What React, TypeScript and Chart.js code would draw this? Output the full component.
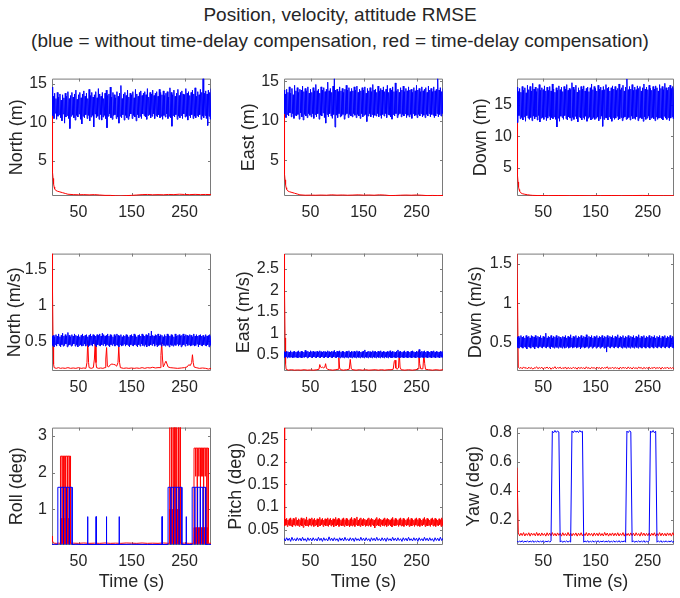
import React, { useEffect, useRef } from 'react';
import { Chart, registerables } from 'chart.js';

Chart.register(...registerables);

const FONT = "'Liberation Sans', Arial, Helvetica, sans-serif";
const TEXT = '#262626';
const FRAME = '#7a7a7a';
const BLUE = '#0000ff';
const RED = '#ff0000';

const titleLine1 = 'Position, velocity, attitude RMSE';
const titleLine2 = '(blue = without time-delay compensation, red = time-delay compensation)';
const timeTicks = [50, 150, 250];
const fineStep = 1.25; // seconds between samples of the dense series
const coarseStep = 2.5; // seconds between samples of the thin series

type Pair = [number, number];

// ---------- Position RMSE (m) ----------
const posNorthBlue = [
  14.6, 10.9, 13.4, 10.5, 13.8, 11.2, 13.1, 10.4, 13.9, 10.8,
  13.3, 11.0, 13.7, 10.6, 12.9, 10.2, 13.6, 11.1, 13.2, 9.9,
  13.8, 10.7, 13.4, 10.9, 14.0, 10.5, 13.1, 9.2, 13.5, 10.8,
  13.9, 11.0, 13.3, 10.6, 13.7, 10.3, 14.2, 10.9, 13.0, 10.7,
  13.6, 11.1, 13.9, 10.4, 13.2, 9.8, 13.7, 10.8, 14.1, 10.6,
  13.4, 11.0, 13.8, 10.5, 13.1, 10.9, 14.3, 10.2, 13.5, 10.7,
  13.9, 10.9, 13.3, 9.4, 13.6, 11.1, 14.0, 10.6, 13.2, 10.8,
  14.4, 10.4, 13.7, 11.0, 13.4, 10.3, 13.9, 10.7, 13.1, 10.9,
  13.8, 10.5, 14.2, 9.3, 13.5, 10.8, 13.7, 11.1, 14.6, 10.6,
  13.3, 10.4, 13.9, 10.9, 13.6, 11.0, 13.2, 10.5, 14.0, 10.7,
  13.4, 9.9, 13.8, 10.8, 14.8, 10.6, 13.1, 11.0, 13.7, 10.3,
  13.9, 10.9, 13.5, 10.6, 14.2, 10.4, 13.3, 10.8, 13.8, 11.1,
  13.6, 10.5, 14.0, 10.9, 13.2, 10.7, 14.3, 10.2, 13.7, 11.0,
  13.4, 10.6, 13.9, 10.8, 14.1, 10.5, 13.5, 11.1, 13.8, 10.9,
  14.0, 10.7, 13.6, 10.4, 14.4, 10.9, 13.3, 11.0, 13.9, 10.6,
  13.7, 10.8, 14.2, 11.1, 13.5, 10.5, 13.8, 10.9, 14.0, 10.7,
  13.4, 11.0, 14.3, 10.6, 13.9, 10.8, 13.6, 10.4, 14.1, 10.9,
  13.5, 10.7, 13.8, 11.1, 14.0, 10.5, 13.3, 10.8, 14.5, 10.6,
  13.9, 9.5, 13.6, 10.9, 14.2, 10.7, 13.4, 11.0, 13.8, 10.4,
  14.3, 10.8, 13.5, 10.6, 13.9, 10.9, 14.1, 10.5, 13.7, 11.1,
  13.6, 10.7, 14.4, 10.8, 13.8, 10.3, 14.0, 10.9, 13.5, 10.6,
  13.9, 11.0, 14.2, 10.5, 13.7, 10.8, 14.5, 10.6, 13.4, 10.9,
  14.0, 10.7, 13.6, 11.0, 14.3, 10.4, 13.9, 10.8, 15.7, 10.6,
  13.8, 10.9, 14.1, 10.5, 13.7, 9.6, 14.2, 10.8, 13.9, 10.4,
  14.4,
];
const posNorthRed: Pair[] = [
  [0, 11.8], [0.5, 8], [1, 5], [1.5, 3.5], [2, 2.7], [3, 2.0], [4, 1.6], [5, 1.35], [7, 1.15],
  [10, 1.05], [15, 0.95], [20, 0.85], [25, 0.75], [30, 0.65], [40, 0.6], [50, 0.58], [60, 0.6],
  [70, 0.57], [80, 0.6], [90, 0.55], [100, 0.5], [110, 0.5], [120, 0.45], [130, 0.43], [140, 0.47],
  [150, 0.5], [160, 0.55], [170, 0.6], [180, 0.62], [190, 0.58], [200, 0.6], [210, 0.58], [220, 0.62],
  [230, 0.6], [240, 0.65], [250, 0.62], [260, 0.6], [270, 0.63], [280, 0.6], [290, 0.62], [300, 0.6],
];

const posEastBlue = [
  13.9, 10.9, 13.4, 10.4, 14.0, 10.8, 13.6, 10.6, 14.3, 11.0,
  13.5, 10.5, 14.1, 10.9, 13.3, 10.3, 14.5, 10.7, 13.8, 10.6,
  14.2, 10.8, 13.6, 10.2, 14.0, 11.0, 13.9, 10.5, 14.4, 10.1,
  13.7, 10.8, 14.1, 10.6, 13.8, 10.4, 14.3, 10.9, 13.5, 10.7,
  14.0, 10.5, 13.6, 10.9, 14.2, 10.3, 13.8, 10.8, 14.6, 10.5,
  13.8, 10.9, 14.0, 10.2, 13.5, 10.7, 14.3, 10.6, 13.9, 11.0,
  14.2, 10.4, 13.7, 9.7, 14.0, 10.8, 14.9, 10.5, 13.8, 10.9,
  14.1, 10.6, 13.6, 10.3, 14.4, 10.8, 15.35, 9.2, 13.9, 10.7,
  14.0, 10.4, 13.7, 10.9, 14.3, 10.5, 13.8, 10.6, 14.1, 10.8,
  13.6, 10.2, 14.0, 10.7, 14.5, 10.9, 13.9, 10.4, 14.2, 10.8,
  13.7, 10.6, 14.1, 10.5, 13.8, 10.9, 14.3, 10.7, 13.9, 10.4,
  14.4, 10.8, 13.6, 10.6, 14.0, 10.3, 13.8, 10.9, 14.2, 10.5,
  13.9, 10.7, 14.3, 10.8, 13.5, 9.9, 14.1, 10.6, 13.8, 10.9,
  14.2, 10.5, 13.7, 10.8, 14.6, 10.4, 13.9, 10.7, 14.0, 10.6,
  13.6, 10.9, 14.4, 10.5, 13.8, 10.7, 14.1, 10.3, 13.9, 10.8,
  14.3, 10.6, 13.7, 10.9, 14.0, 10.4, 14.5, 10.8, 13.6, 10.7,
  14.1, 10.5, 13.9, 10.2, 14.3, 10.8, 13.7, 10.6, 14.8, 10.9,
  13.8, 10.4, 14.0, 10.7, 13.6, 10.9, 14.2, 10.5, 13.9, 10.8,
  14.4, 10.6, 13.7, 10.9, 14.1, 10.4, 13.8, 10.7, 14.3, 10.5,
  13.9, 10.8, 14.0, 10.3, 13.6, 10.9, 14.2, 10.6, 13.8, 10.7,
  14.5, 10.4, 13.9, 10.8, 14.1, 10.6, 13.7, 10.9, 14.3, 10.5,
  13.8, 10.7, 14.0, 10.4, 14.2, 10.8, 13.6, 10.6, 14.4, 10.9,
  13.9, 10.5, 14.1, 10.8, 13.7, 10.7, 14.3, 10.4, 13.8, 10.6,
  14.0, 10.9, 15.35, 10.5, 13.9, 10.8, 14.2, 10.6, 13.7, 10.9,
  14.1,
];
const posEastRed: Pair[] = [
  [0, 10.8], [0.5, 7], [1, 4.5], [1.5, 3.2], [2, 2.5], [3, 1.9], [4, 1.5], [5, 1.3], [7, 1.1],
  [10, 1.0], [15, 0.9], [20, 0.8], [25, 0.7], [30, 0.6], [40, 0.55], [50, 0.56], [60, 0.55],
  [70, 0.57], [80, 0.55], [90, 0.6], [100, 0.56], [110, 0.58], [120, 0.55], [130, 0.57], [140, 0.6],
  [150, 0.56], [160, 0.58], [170, 0.55], [180, 0.6], [190, 0.57], [200, 0.5], [210, 0.52], [220, 0.55],
  [230, 0.57], [240, 0.55], [250, 0.58], [260, 0.55], [270, 0.5], [280, 0.52], [290, 0.5], [300, 0.52],
];

const posDownBlue = [
  17.8, 12.2, 17.1, 13.3, 17.6, 12.8, 17.0, 13.0, 17.9, 12.6,
  17.3, 13.1, 17.7, 12.4, 16.9, 13.3, 18.1, 12.9, 17.4, 12.7,
  17.9, 13.0, 17.2, 12.5, 18.4, 13.2, 17.5, 12.8, 17.8, 13.1,
  17.1, 12.6, 17.6, 13.3, 18.2, 12.3, 17.3, 12.9, 17.7, 13.0,
  17.4, 12.7, 18.0, 13.1, 17.2, 12.5, 17.8, 12.9, 17.3, 13.2,
  17.9, 12.6, 17.2, 13.0, 18.3, 12.8, 17.5, 13.1, 17.0, 12.7,
  17.7, 11.5, 17.3, 12.9, 18.0, 12.4, 17.4, 13.2, 17.8, 13.0,
  17.1, 12.7, 17.9, 13.3, 17.5, 12.8, 18.2, 12.6, 17.3, 13.1,
  17.6, 12.9, 17.4, 12.5, 18.5, 13.0, 17.8, 12.7, 17.4, 13.2,
  18.1, 12.8, 17.0, 12.3, 17.7, 13.1, 17.3, 12.9, 17.9, 12.6,
  17.5, 13.0, 18.0, 12.7, 17.2, 13.2, 17.6, 12.4, 17.8, 12.9,
  17.1, 13.1, 17.7, 12.6, 18.3, 12.8, 17.4, 13.0, 17.9, 12.7,
  17.6, 12.9, 17.2, 13.1, 18.1, 12.5, 17.5, 12.8, 17.8, 13.2,
  17.3, 11.6, 17.9, 12.7, 17.4, 13.0, 18.2, 12.9, 17.6, 12.6,
  17.8, 13.1, 17.2, 12.8, 17.7, 12.4, 18.0, 13.0, 17.5, 12.7,
  17.9, 12.9, 17.3, 13.2, 17.6, 12.6, 18.3, 12.8, 17.4, 13.0,
  17.7, 12.5, 18.1, 12.9, 17.2, 13.1, 17.8, 12.7, 19.1, 12.8,
  17.4, 13.0, 17.9, 12.6, 17.5, 13.2, 18.2, 12.8, 17.3, 12.9,
  17.8, 12.7, 17.4, 13.1, 18.0, 12.5, 17.6, 12.9, 17.9, 13.0,
  17.2, 12.8, 17.7, 12.4, 18.3, 13.1, 17.5, 12.7, 17.8, 12.9,
  17.4, 13.2, 18.1, 12.6, 17.6, 12.9, 17.3, 13.0, 17.9, 12.8,
  17.5, 12.5, 18.0, 13.1, 17.7, 12.7, 17.2, 12.9, 18.2, 13.0,
  17.6, 12.8, 17.9, 12.6, 17.4, 13.2, 18.4, 12.9, 17.7, 12.7,
  17.3, 13.0, 17.8, 12.5, 18.1, 12.9, 17.6, 13.1, 17.9, 12.8,
  17.6,
];
const posDownRed: Pair[] = [
  [0, 14.8], [0.5, 9], [1, 5.5], [1.5, 3.8], [2, 2.8], [3, 2.0], [4, 1.6], [5, 1.35], [7, 1.1],
  [10, 0.95], [15, 0.85], [20, 0.78], [25, 0.72], [30, 0.68], [40, 0.65], [60, 0.64], [80, 0.66],
  [100, 0.63], [120, 0.65], [140, 0.62], [160, 0.64], [180, 0.66], [200, 0.63], [220, 0.65],
  [240, 0.67], [260, 0.64], [280, 0.63], [300, 0.62],
];

// ---------- Velocity RMSE (m/s) ----------
const velNorthBlue = [
  0.57, 0.44, 0.58, 0.42, 0.56, 0.45, 0.59, 0.43, 0.57, 0.46,
  0.60, 0.44, 0.56, 0.42, 0.58, 0.45, 0.61, 0.43, 0.57, 0.44,
  0.59, 0.46, 0.57, 0.42, 0.62, 0.44, 0.58, 0.45, 0.56, 0.43,
  0.59, 0.44, 0.57, 0.46, 0.60, 0.43, 0.58, 0.45, 0.57, 0.42,
  0.59, 0.44, 0.56, 0.45, 0.58, 0.43, 0.60, 0.44, 0.57, 0.46,
  0.58, 0.43, 0.59, 0.45, 0.56, 0.42, 0.58, 0.44, 0.60, 0.45,
  0.57, 0.43, 0.59, 0.46, 0.58, 0.44, 0.57, 0.42, 0.59, 0.45,
  0.58, 0.44, 0.60, 0.43, 0.57, 0.45, 0.61, 0.44, 0.59, 0.46,
  0.57, 0.43, 0.58, 0.45, 0.60, 0.44, 0.57, 0.42, 0.59, 0.45,
  0.58, 0.44, 0.56, 0.46, 0.59, 0.43, 0.57, 0.45, 0.60, 0.44,
  0.58, 0.42, 0.57, 0.45, 0.59, 0.43, 0.56, 0.44, 0.58, 0.46,
  0.57, 0.43, 0.59, 0.45, 0.58, 0.44, 0.56, 0.42, 0.58, 0.45,
  0.59, 0.44, 0.57, 0.43, 0.60, 0.45, 0.58, 0.44, 0.56, 0.42,
  0.58, 0.45, 0.59, 0.43, 0.57, 0.46, 0.60, 0.44, 0.58, 0.43,
  0.57, 0.45, 0.59, 0.42, 0.58, 0.44, 0.61, 0.43, 0.57, 0.45,
  0.64, 0.44, 0.58, 0.46, 0.57, 0.43, 0.59, 0.45, 0.58, 0.42,
  0.60, 0.44, 0.57, 0.45, 0.59, 0.43, 0.58, 0.46, 0.56, 0.44,
  0.59, 0.43, 0.57, 0.45, 0.60, 0.44, 0.58, 0.42, 0.57, 0.45,
  0.59, 0.44, 0.58, 0.43, 0.56, 0.45, 0.60, 0.44, 0.57, 0.46,
  0.58, 0.43, 0.59, 0.45, 0.57, 0.42, 0.58, 0.44, 0.60, 0.45,
  0.57, 0.43, 0.59, 0.46, 0.58, 0.44, 0.57, 0.45, 0.59, 0.43,
  0.58, 0.44, 0.56, 0.45, 0.60, 0.43, 0.57, 0.44, 0.59, 0.46,
  0.57, 0.42, 0.58, 0.45, 0.59, 0.44, 0.57, 0.43, 0.58, 0.45,
  0.56, 0.44, 0.59, 0.43, 0.57, 0.45, 0.58, 0.42, 0.59, 0.44,
  0.57,
];
const velNorthRed: Pair[] = [
  [0, 1.72], [1, 1.2], [2, 0.5], [3, 0.18], [4, 0.13], [8, 0.12], [12, 0.13], [16, 0.12], [20, 0.125],
  [25, 0.12], [30, 0.13], [35, 0.12], [40, 0.125], [45, 0.12], [50, 0.13], [55, 0.12], [60, 0.125],
  [64, 0.12], [66, 0.2], [67.5, 0.51], [69, 0.2], [70, 0.13], [74, 0.12], [78, 0.13], [80, 0.25],
  [81.5, 0.51], [83, 0.2], [84, 0.13], [88, 0.12], [92, 0.125], [96, 0.12], [100, 0.13], [101.5, 0.25],
  [103, 0.41], [104.5, 0.15], [107, 0.14], [110, 0.17], [113, 0.18], [116, 0.175], [119, 0.17],
  [122, 0.15], [124.5, 0.2], [126, 0.42], [127.5, 0.2], [129, 0.13], [135, 0.12], [140, 0.125],
  [145, 0.12], [150, 0.125], [155, 0.12], [160, 0.125], [165, 0.12], [170, 0.13], [175, 0.12],
  [180, 0.13], [185, 0.125], [190, 0.135], [195, 0.125], [200, 0.13], [204, 0.13], [205.5, 0.3],
  [207, 0.48], [208.5, 0.25], [210, 0.14], [213, 0.19], [215, 0.22], [217, 0.18], [219, 0.14],
  [223, 0.13], [230, 0.125], [237, 0.12], [244, 0.125], [250, 0.13], [255, 0.14], [258, 0.17],
  [261, 0.16], [263.5, 0.2], [265, 0.31], [266.5, 0.2], [268, 0.14], [272, 0.13], [278, 0.12],
  [284, 0.125], [290, 0.12], [295, 0.11], [300, 0.12],
];

const velEastBlue = [
  0.58, 0.445, 0.57, 0.455, 0.59, 0.435, 0.58, 0.455, 0.57, 0.445,
  0.60, 0.455, 0.57, 0.435, 0.58, 0.445, 0.59, 0.455, 0.57, 0.445,
  0.58, 0.435, 0.60, 0.455, 0.57, 0.445, 0.59, 0.435, 0.58, 0.455,
  0.57, 0.445, 0.61, 0.455, 0.58, 0.435, 0.59, 0.445, 0.57, 0.455,
  0.60, 0.445, 0.58, 0.435, 0.59, 0.455, 0.57, 0.445, 0.58, 0.435,
  0.59, 0.455, 0.57, 0.445, 0.60, 0.435, 0.58, 0.455, 0.57, 0.445,
  0.59, 0.435, 0.58, 0.455, 0.57, 0.445, 0.60, 0.435, 0.58, 0.455,
  0.57, 0.445, 0.59, 0.435, 0.58, 0.455, 0.61, 0.445, 0.57, 0.435,
  0.59, 0.455, 0.58, 0.445, 0.60, 0.435, 0.57, 0.455, 0.59, 0.445,
  0.58, 0.435, 0.57, 0.455, 0.59, 0.445, 0.58, 0.435, 0.60, 0.455,
  0.57, 0.445, 0.59, 0.435, 0.58, 0.455, 0.59, 0.445, 0.57, 0.435,
  0.60, 0.455, 0.58, 0.445, 0.59, 0.435, 0.57, 0.455, 0.58, 0.445,
  0.59, 0.435, 0.62, 0.455, 0.57, 0.445, 0.58, 0.435, 0.59, 0.455,
  0.58, 0.445, 0.57, 0.435, 0.60, 0.455, 0.58, 0.445, 0.59, 0.435,
  0.57, 0.455, 0.59, 0.445, 0.58, 0.435, 0.60, 0.455, 0.57, 0.445,
  0.59, 0.435, 0.58, 0.455, 0.57, 0.445, 0.59, 0.435, 0.58, 0.455,
  0.60, 0.445, 0.57, 0.435, 0.59, 0.455, 0.58, 0.445, 0.57, 0.435,
  0.59, 0.455, 0.62, 0.445, 0.58, 0.435, 0.59, 0.455, 0.57, 0.445,
  0.58, 0.435, 0.60, 0.455, 0.57, 0.445, 0.59, 0.435, 0.58, 0.455,
  0.57, 0.445, 0.59, 0.435, 0.60, 0.455, 0.58, 0.445, 0.57, 0.435,
  0.59, 0.455, 0.58, 0.445, 0.63, 0.435, 0.57, 0.455, 0.59, 0.445,
  0.58, 0.435, 0.60, 0.455, 0.57, 0.445, 0.59, 0.435, 0.58, 0.455,
  0.57, 0.445, 0.59, 0.435, 0.58, 0.455, 0.60, 0.445, 0.57, 0.435,
  0.59, 0.455, 0.58, 0.445, 0.57, 0.435, 0.59, 0.455, 0.58, 0.445,
  0.59,
];
const velEastRed: Pair[] = [
  [0, 2.85], [1, 2.0], [2, 0.9], [3, 0.3], [4, 0.17], [8, 0.15], [14, 0.16], [20, 0.15], [26, 0.155],
  [32, 0.15], [38, 0.16], [44, 0.15], [50, 0.155], [56, 0.15], [62, 0.16], [66, 0.17], [67.5, 0.28],
  [69, 0.22], [71, 0.21], [73, 0.22], [75, 0.2], [77, 0.22], [78.5, 0.3], [80, 0.2], [82, 0.17],
  [86, 0.16], [92, 0.15], [98, 0.16], [102, 0.17], [103.5, 0.44], [105, 0.2], [107, 0.16], [112, 0.15],
  [118, 0.16], [123, 0.17], [125, 0.4], [127, 0.18], [130, 0.16], [136, 0.15], [142, 0.16], [148, 0.15],
  [154, 0.16], [160, 0.15], [166, 0.155], [172, 0.16], [178, 0.15], [184, 0.16], [190, 0.15],
  [196, 0.16], [202, 0.16], [206, 0.17], [208, 0.35], [209.5, 0.38], [211, 0.2], [213, 0.17],
  [216, 0.2], [217.5, 0.57], [219, 0.22], [221, 0.16], [228, 0.15], [235, 0.16], [242, 0.15],
  [249, 0.16], [253, 0.18], [254.5, 0.6], [256, 0.3], [258, 0.18], [262, 0.18], [264, 0.52],
  [265.5, 0.3], [267, 0.17], [273, 0.16], [280, 0.15], [287, 0.16], [294, 0.15], [300, 0.16],
];

const velDownBlue = [
  0.57, 0.44, 0.58, 0.43, 0.56, 0.45, 0.59, 0.44, 0.57, 0.43,
  0.58, 0.45, 0.56, 0.44, 0.59, 0.42, 0.57, 0.45, 0.58, 0.44,
  0.56, 0.43, 0.59, 0.45, 0.58, 0.44, 0.57, 0.42, 0.59, 0.45,
  0.56, 0.44, 0.58, 0.43, 0.57, 0.45, 0.59, 0.44, 0.56, 0.43,
  0.58, 0.45, 0.57, 0.44, 0.62, 0.43, 0.56, 0.45, 0.58, 0.44,
  0.57, 0.42, 0.59, 0.45, 0.56, 0.44, 0.58, 0.43, 0.57, 0.45,
  0.59, 0.44, 0.56, 0.43, 0.58, 0.45, 0.57, 0.44, 0.55, 0.43,
  0.58, 0.45, 0.57, 0.43, 0.59, 0.44, 0.56, 0.45, 0.58, 0.43,
  0.57, 0.44, 0.60, 0.45, 0.56, 0.43, 0.58, 0.44, 0.57, 0.45,
  0.59, 0.43, 0.56, 0.44, 0.58, 0.45, 0.57, 0.42, 0.59, 0.44,
  0.56, 0.45, 0.58, 0.43, 0.57, 0.44, 0.60, 0.45, 0.56, 0.43,
  0.58, 0.44, 0.57, 0.45, 0.59, 0.43, 0.56, 0.44, 0.58, 0.45,
  0.57, 0.43, 0.59, 0.44, 0.56, 0.45, 0.58, 0.43, 0.57, 0.44,
  0.59, 0.45, 0.56, 0.43, 0.58, 0.44, 0.57, 0.38, 0.59, 0.45,
  0.56, 0.44, 0.58, 0.43, 0.57, 0.45, 0.59, 0.44, 0.56, 0.43,
  0.58, 0.45, 0.57, 0.44, 0.60, 0.43, 0.56, 0.45, 0.58, 0.44,
  0.57, 0.43, 0.59, 0.45, 0.56, 0.44, 0.58, 0.43, 0.57, 0.45,
  0.59, 0.44, 0.56, 0.43, 0.58, 0.45, 0.57, 0.44, 0.59, 0.43,
  0.56, 0.45, 0.58, 0.44, 0.57, 0.43, 0.60, 0.45, 0.56, 0.44,
  0.58, 0.43, 0.57, 0.45, 0.59, 0.44, 0.56, 0.43, 0.58, 0.45,
  0.57, 0.44, 0.59, 0.43, 0.56, 0.45, 0.58, 0.44, 0.57, 0.43,
  0.59, 0.45, 0.56, 0.44, 0.58, 0.43, 0.57, 0.45, 0.59, 0.44,
  0.56, 0.43, 0.58, 0.45, 0.57, 0.44, 0.59, 0.43, 0.56, 0.45,
  0.58, 0.44, 0.57, 0.43, 0.59, 0.45, 0.56, 0.44, 0.58, 0.43,
  0.57,
];
const velDownRed = [
  1.63, 0.19, 0.172, 0.186, 0.168, 0.192, 0.175, 0.183, 0.166, 0.189,
  0.171, 0.185, 0.163, 0.18, 0.177, 0.193, 0.169, 0.184, 0.174, 0.188,
  0.165, 0.182, 0.176, 0.19, 0.17, 0.187, 0.162, 0.181, 0.173, 0.195,
  0.168, 0.184, 0.175, 0.189, 0.166, 0.183, 0.171, 0.191, 0.164, 0.186,
  0.172, 0.18, 0.169, 0.188, 0.175, 0.182, 0.163, 0.19, 0.17, 0.185,
  0.174, 0.181, 0.167, 0.193, 0.172, 0.184, 0.165, 0.187, 0.176, 0.182,
  0.168, 0.19, 0.173, 0.185, 0.164, 0.188, 0.171, 0.183, 0.175, 0.194,
  0.166, 0.182, 0.172, 0.189, 0.169, 0.185, 0.174, 0.181, 0.163, 0.19,
  0.17, 0.186, 0.176, 0.183, 0.167, 0.192, 0.172, 0.184, 0.165, 0.188,
  0.173, 0.181, 0.168, 0.19, 0.175, 0.185, 0.164, 0.187, 0.171, 0.182,
  0.174, 0.189, 0.166, 0.184, 0.172, 0.191, 0.169, 0.183, 0.175, 0.186,
  0.163, 0.188, 0.17, 0.182, 0.173, 0.19, 0.167, 0.185, 0.171, 0.183,
  0.168,
];

// ---------- Attitude RMSE (deg) ----------
const rollBlue: Pair[] = [
  [0, 0.04], [5, 0.045], [11, 0.04],
  [11, 1.6], [16.4, 1.6], [16.4, 0.04], [16.4, 1.6], [21.8, 1.6], [21.8, 0.04], [21.8, 1.6],
  [27.2, 1.6], [27.2, 0.04], [27.2, 1.6], [32.6, 1.6], [32.6, 0.04], [32.6, 1.6], [38, 1.6], [38, 0.04],
  [45, 0.045], [55, 0.04], [67, 0.04], [67, 0.8], [67.6, 0.8], [67.6, 0.04],
  [83, 0.04], [83, 0.8], [83.6, 0.8], [83.6, 0.04],
  [102.5, 0.04], [102.5, 0.8], [103.1, 0.8], [103.1, 0.04],
  [126.5, 0.04], [126.5, 0.8], [127.1, 0.8], [127.1, 0.04],
  [150, 0.045], [180, 0.04], [207.5, 0.04], [207.5, 0.8], [208.1, 0.8], [208.1, 0.04],
  [219, 0.04], [219, 1.6], [224.2, 1.6], [224.2, 0.04], [224.2, 1.6], [229.4, 1.6], [229.4, 0.04],
  [229.4, 1.6], [234.6, 1.6], [234.6, 0.04], [234.6, 1.6], [239.8, 1.6], [239.8, 0.04], [239.8, 1.6],
  [245, 1.6], [245, 0.04],
  [253, 0.04], [253, 0.8], [253.6, 0.8], [253.6, 0.04],
  [264.5, 0.04], [264.5, 1.6], [269.6, 1.6], [269.6, 0.04], [269.6, 1.6], [274.7, 1.6], [274.7, 0.04],
  [274.7, 1.6], [279.8, 1.6], [279.8, 0.04], [279.8, 1.6], [284.9, 1.6], [284.9, 0.04], [284.9, 1.6],
  [290, 1.6], [290, 0.04],
  [295, 0.045], [300, 0.04],
];
const rollRed: Pair[] = [
  [0, 0.27], [1, 0.14], [2, 0.09], [4, 0.075], [8, 0.07], [12, 0.075], [15.8, 0.07],
  // first burst: flat top with drop-outs, then a dense low-level return
  [16, 2.45], [19, 2.45], [19, 0.75], [19.3, 0.07], [19.6, 2.45], [22.3, 2.45], [22.3, 0.75], [22.6, 0.07],
  [22.9, 2.45], [25.6, 2.45], [25.6, 0.75], [25.9, 0.07], [26.2, 2.45], [28.9, 2.45], [28.9, 0.75],
  [29.2, 0.07], [29.5, 2.45], [32.2, 2.45], [32.2, 0.75], [32.5, 0.07], [32.8, 2.45], [35, 2.45],
  [35.2, 0.07], [34.6, 0.75], [34, 0.07], [33.4, 0.75], [32.8, 0.07], [32.2, 0.75], [31.6, 0.07],
  [31, 0.75], [30.4, 0.07], [29.8, 0.75], [29.2, 0.07], [28.6, 0.75], [28, 0.07], [27.4, 0.75],
  [26.8, 0.07], [26.2, 0.75], [25.6, 0.07], [25, 0.75], [24.4, 0.07], [23.8, 0.75], [23.2, 0.07],
  [22.6, 0.75], [22, 0.07], [21.4, 0.75], [20.8, 0.07], [20.2, 0.75], [19.6, 0.07], [19, 0.75],
  [18.4, 0.07], [17.8, 0.75], [17.2, 0.07], [16.6, 0.75], [16, 0.07],
  [40, 0.075], [50, 0.07], [60, 0.08], [70, 0.07], [80, 0.075], [90, 0.07], [100, 0.08], [110, 0.07],
  [120, 0.075], [130, 0.07], [140, 0.08], [150, 0.075], [160, 0.07], [170, 0.08], [180, 0.07],
  [190, 0.075], [200, 0.07], [210, 0.08], [221.8, 0.07],
  // second burst (runs off the top of the axes)
  [222, 3.4], [225, 3.4], [225, 1.0], [225.3, 0.07], [225.6, 3.4], [228.4, 3.4], [228.4, 1.0],
  [228.7, 0.07], [229, 3.4], [231.8, 3.4], [231.8, 1.0], [232.1, 0.07], [232.4, 3.4], [235.2, 3.4],
  [235.2, 1.0], [235.5, 0.07], [235.8, 3.4], [238.6, 3.4], [238.6, 1.0], [238.9, 0.07], [239.2, 3.4],
  [242, 3.4], [242.2, 0.07], [241.6, 1.0], [241, 0.07], [240.4, 1.0], [239.8, 0.07], [239.2, 1.0],
  [238.6, 0.07], [238, 1.0], [237.4, 0.07], [236.8, 1.0], [236.2, 0.07], [235.6, 1.0], [235, 0.07],
  [234.4, 1.0], [233.8, 0.07], [233.2, 1.0], [232.6, 0.07], [232, 1.0], [231.4, 0.07], [230.8, 1.0],
  [230.2, 0.07], [229.6, 1.0], [229, 0.07], [228.4, 1.0], [227.8, 0.07], [227.2, 1.0], [226.6, 0.07],
  [226, 1.0], [225.4, 0.07], [224.8, 1.0], [224.2, 0.07], [223.6, 1.0], [223, 0.07], [222.4, 1.0],
  [222, 0.07],
  [250, 0.075], [260, 0.07], [267.8, 0.07],
  // third burst
  [268, 2.67], [271, 2.67], [271, 1.9], [271.3, 2.67], [274, 2.67], [274, 0.07], [274.3, 2.67],
  [277, 2.67], [277, 1.9], [277.3, 2.67], [280, 2.67], [280, 0.07], [280.3, 2.67], [283, 2.67],
  [283, 1.9], [283.3, 2.67], [286, 2.67], [286, 0.07], [286.3, 2.67], [289, 2.67], [289, 1.9],
  [289.3, 2.67], [292, 2.67], [292, 0.07], [292.3, 2.67], [295, 2.67], [295.2, 0.07],
  [294.6, 0.5], [294, 0.07], [293.4, 0.5], [292.8, 0.07], [292.2, 0.5], [291.6, 0.07], [291, 0.5],
  [290.4, 0.07], [289.8, 0.5], [289.2, 0.07], [288.6, 0.5], [288, 0.07], [287.4, 0.5], [286.8, 0.07],
  [286.2, 0.5], [285.6, 0.07], [285, 0.5], [284.4, 0.07], [283.8, 0.5], [283.2, 0.07], [282.6, 0.5],
  [282, 0.07], [281.4, 0.5], [280.8, 0.07], [280.2, 0.5], [279.6, 0.07], [279, 0.5], [278.4, 0.07],
  [277.8, 0.5], [277.2, 0.07], [276.6, 0.5], [276, 0.07], [275.4, 0.5], [274.8, 0.07], [274.2, 0.5],
  [273.6, 0.07], [273, 0.5], [272.4, 0.07], [271.8, 0.5], [271.2, 0.07], [270.6, 0.5], [270, 0.07],
  [269.4, 0.5], [268.8, 0.07], [268.2, 0.5], [268, 0.07],
  [296, 0.07], [300, 0.075],
];

const pitchBlue = [
  0.031, 0.025, 0.032, 0.026, 0.031, 0.024, 0.033, 0.026, 0.030, 0.025,
  0.032, 0.026, 0.031, 0.025, 0.033, 0.026, 0.030, 0.024, 0.032, 0.026,
  0.031, 0.025, 0.032, 0.026, 0.030, 0.025, 0.033, 0.026, 0.031, 0.024,
  0.032, 0.026, 0.030, 0.025, 0.034, 0.026, 0.031, 0.025, 0.032, 0.026,
  0.030, 0.024, 0.032, 0.026, 0.031, 0.025, 0.033, 0.026, 0.030, 0.025,
  0.032, 0.026, 0.031, 0.024, 0.032, 0.026, 0.030, 0.025, 0.033, 0.026,
  0.031, 0.025, 0.032, 0.026, 0.030, 0.024, 0.032, 0.026, 0.031, 0.025,
  0.033, 0.026, 0.030, 0.025, 0.032, 0.026, 0.031, 0.024, 0.032, 0.026,
  0.030, 0.025, 0.033, 0.026, 0.031, 0.025, 0.032, 0.026, 0.030, 0.024,
  0.032, 0.026, 0.031, 0.025, 0.033, 0.026, 0.030, 0.025, 0.032, 0.026,
  0.031, 0.024, 0.032, 0.026, 0.030, 0.025, 0.033, 0.026, 0.031, 0.025,
  0.032, 0.026, 0.030, 0.024, 0.032, 0.026, 0.031, 0.025, 0.033, 0.026,
  0.031,
];
const pitchRed = [
  0.275, 0.058, 0.073, 0.060, 0.075, 0.057, 0.071, 0.061, 0.074, 0.059,
  0.076, 0.058, 0.072, 0.056, 0.075, 0.060, 0.073, 0.058, 0.077, 0.061,
  0.071, 0.059, 0.074, 0.057, 0.072, 0.060, 0.076, 0.058, 0.073, 0.055,
  0.075, 0.061, 0.072, 0.058, 0.078, 0.059, 0.071, 0.057, 0.074, 0.060,
  0.073, 0.058, 0.076, 0.061, 0.072, 0.057, 0.075, 0.059, 0.071, 0.060,
  0.074, 0.056, 0.073, 0.059, 0.077, 0.058, 0.072, 0.061, 0.075, 0.057,
  0.071, 0.060, 0.074, 0.058, 0.073, 0.059, 0.076, 0.057, 0.072, 0.061,
  0.075, 0.058, 0.071, 0.060, 0.074, 0.056, 0.073, 0.059, 0.077, 0.058,
  0.072, 0.061, 0.075, 0.057, 0.073, 0.060, 0.071, 0.058, 0.074, 0.059,
  0.076, 0.057, 0.072, 0.061, 0.075, 0.058, 0.073, 0.060, 0.071, 0.056,
  0.074, 0.059, 0.077, 0.058, 0.072, 0.060, 0.075, 0.057, 0.073, 0.061,
  0.078, 0.058, 0.071, 0.059, 0.074, 0.057, 0.076, 0.060, 0.072, 0.058,
  0.075, 0.061, 0.073, 0.057, 0.071, 0.059, 0.074, 0.058, 0.076, 0.060,
  0.072, 0.057, 0.075, 0.061, 0.073, 0.058, 0.071, 0.054, 0.074, 0.059,
  0.077, 0.060, 0.072, 0.058, 0.075, 0.057, 0.073, 0.061, 0.071, 0.059,
  0.074, 0.058, 0.076, 0.060, 0.072, 0.057, 0.075, 0.059, 0.073, 0.061,
  0.071, 0.058, 0.074, 0.056, 0.077, 0.060, 0.072, 0.058, 0.075, 0.059,
  0.073, 0.061, 0.071, 0.057, 0.074, 0.060, 0.076, 0.058, 0.072, 0.059,
  0.075, 0.057, 0.073, 0.061, 0.071, 0.058, 0.074, 0.060, 0.077, 0.057,
  0.072, 0.059, 0.075, 0.058, 0.073, 0.061, 0.071, 0.057, 0.074, 0.060,
  0.076, 0.058, 0.072, 0.059, 0.075, 0.057, 0.073, 0.060, 0.071, 0.058,
  0.074, 0.061, 0.077, 0.057, 0.072, 0.059, 0.075, 0.058, 0.073, 0.060,
  0.071, 0.057, 0.074, 0.061, 0.076, 0.058, 0.072, 0.059, 0.075, 0.057,
  0.073, 0.060, 0.071, 0.058, 0.074, 0.061, 0.072, 0.057, 0.076, 0.059,
  0.073,
];

const yawBlue = [
  0.058, 0.048, 0.057, 0.049, 0.059, 0.047, 0.056, 0.050, 0.058, 0.048,
  0.057, 0.049, 0.059, 0.047, 0.056, 0.050, 0.058, 0.048, 0.057, 0.049,
  0.059, 0.047, 0.056, 0.050, 0.058, 0.048, 0.057, 0.810, 0.800, 0.815,
  0.802, 0.812, 0.805, 0.049, 0.058, 0.047, 0.056, 0.050, 0.058, 0.048,
  0.057, 0.049, 0.812, 0.800, 0.814, 0.803, 0.811, 0.801, 0.815, 0.804,
  0.810, 0.048, 0.057, 0.049, 0.059, 0.047, 0.056, 0.050, 0.058, 0.048,
  0.057, 0.049, 0.059, 0.047, 0.056, 0.050, 0.058, 0.048, 0.057, 0.049,
  0.059, 0.047, 0.056, 0.050, 0.058, 0.048, 0.057, 0.049, 0.059, 0.047,
  0.056, 0.050, 0.058, 0.048, 0.811, 0.801, 0.814, 0.805, 0.049, 0.058,
  0.047, 0.056, 0.050, 0.058, 0.048, 0.057, 0.049, 0.059, 0.047, 0.056,
  0.050, 0.058, 0.812, 0.802, 0.815, 0.800, 0.810, 0.048, 0.057, 0.049,
  0.059, 0.047, 0.056, 0.050, 0.058, 0.048, 0.057, 0.049, 0.059, 0.047,
  0.056,
];
const yawRed = [
  0.56, 0.112, 0.092, 0.110, 0.094, 0.114, 0.091, 0.108, 0.095, 0.113,
  0.090, 0.111, 0.096, 0.109, 0.092, 0.115, 0.093, 0.110, 0.091, 0.112,
  0.095, 0.108, 0.090, 0.113, 0.094, 0.111, 0.092, 0.114, 0.093, 0.109,
  0.091, 0.112, 0.095, 0.110, 0.090, 0.113, 0.094, 0.108, 0.092, 0.115,
  0.093, 0.111, 0.091, 0.109, 0.095, 0.112, 0.090, 0.110, 0.094, 0.113,
  0.092, 0.108, 0.093, 0.114, 0.091, 0.111, 0.095, 0.109, 0.090, 0.112,
  0.094, 0.110, 0.092, 0.113, 0.093, 0.108, 0.091, 0.115, 0.095, 0.111,
  0.090, 0.109, 0.094, 0.112, 0.092, 0.110, 0.093, 0.113, 0.091, 0.108,
  0.095, 0.114, 0.090, 0.111, 0.094, 0.109, 0.092, 0.112, 0.093, 0.110,
  0.091, 0.113, 0.095, 0.108, 0.090, 0.115, 0.094, 0.111, 0.092, 0.109,
  0.093, 0.112, 0.091, 0.110, 0.095, 0.113, 0.090, 0.108, 0.094, 0.114,
  0.092, 0.111, 0.093, 0.109, 0.091, 0.112, 0.095, 0.110, 0.090, 0.113,
  0.094,
];

// ---------- panel definitions ----------
const yTicksPos = [5, 10, 15];
const yTicksVelNE = [0.5, 1, 1.5];
const yTicksVelE = [0.5, 1, 1.5, 2, 2.5];
const yTicksRoll = [1, 2, 3];
const yTicksPitch = [0.05, 0.1, 0.15, 0.2, 0.25];
const yTicksYaw = [0.2, 0.4, 0.6, 0.8];

type XY = { x: number; y: number };
const fromSamples = (vals: number[], step: number): XY[] => vals.map((v, i) => ({ x: i * step, y: v }));
const fromPairs = (pairs: Pair[]): XY[] => pairs.map(([x, y]) => ({ x, y }));

interface Panel {
  row: number;
  col: number;
  label: string;
  min: number;
  max: number;
  ticks: number[];
  blue: XY[];
  red: XY[];
  labelCenter: number;
}

const panels: Panel[] = [
  { row: 0, col: 0, label: 'North (m)', min: 0.42, max: 15.7, ticks: yTicksPos, blue: fromSamples(posNorthBlue, fineStep), red: fromPairs(posNorthRed), labelCenter: 17 },
  { row: 0, col: 1, label: 'East (m)', min: 0.45, max: 15.35, ticks: yTicksPos, blue: fromSamples(posEastBlue, fineStep), red: fromPairs(posEastRed), labelCenter: 249 },
  { row: 0, col: 2, label: 'Down (m)', min: 0.58, max: 19.15, ticks: yTicksPos, blue: fromSamples(posDownBlue, fineStep), red: fromPairs(posDownRed), labelCenter: 481 },
  { row: 1, col: 0, label: 'North (m/s)', min: 0.083, max: 1.72, ticks: yTicksVelNE, blue: fromSamples(velNorthBlue, fineStep), red: fromPairs(velNorthRed), labelCenter: 15 },
  { row: 1, col: 1, label: 'East (m/s)', min: 0.13, max: 2.86, ticks: yTicksVelE, blue: fromSamples(velEastBlue, fineStep), red: fromPairs(velEastRed), labelCenter: 244 },
  { row: 1, col: 2, label: 'Down (m/s)', min: 0.14, max: 1.63, ticks: yTicksVelNE, blue: fromSamples(velDownBlue, fineStep), red: fromSamples(velDownRed, coarseStep), labelCenter: 476 },
  { row: 2, col: 0, label: 'Roll (deg)', min: 0.025, max: 3.23, ticks: yTicksRoll, blue: fromPairs(rollBlue), red: fromPairs(rollRed), labelCenter: 17 },
  { row: 2, col: 1, label: 'Pitch (deg)', min: 0.016, max: 0.2755, ticks: yTicksPitch, blue: fromSamples(pitchBlue, coarseStep), red: fromSamples(pitchRed, fineStep), labelCenter: 236 },
  { row: 2, col: 2, label: 'Yaw (deg)', min: 0.029, max: 0.835, ticks: yTicksYaw, blue: fromSamples(yawBlue, coarseStep), red: fromSamples(yawRed, coarseStep), labelCenter: 474 },
];

// ---------- layout (pixels) ----------
const colStart = [0, 222, 455];
const plotLeft = [52, 284, 517];
const plotWidth = [159, 159, 157];
const plotTop = [70, 245, 419];
const plotHeight = 126;
const padTop = 6;
const padRight = 6;
const tickFontSize = 16;
const labelFontSize = 18;

const framePlugin = {
  id: 'matlabFrame',
  beforeDatasetsDraw(chart: any) {
    const { ctx, chartArea: a, scales } = chart;
    const tl = 3;
    ctx.save();
    ctx.strokeStyle = FRAME;
    ctx.lineWidth = 1;
    ctx.beginPath();
    ctx.rect(a.left + 0.5, a.top + 0.5, a.right - a.left - 1, a.bottom - a.top - 1);
    scales.x.ticks.forEach((t: any) => {
      const px = Math.round(scales.x.getPixelForValue(t.value)) + 0.5;
      ctx.moveTo(px, a.bottom);
      ctx.lineTo(px, a.bottom - tl);
      ctx.moveTo(px, a.top);
      ctx.lineTo(px, a.top + tl);
    });
    scales.y.ticks.forEach((t: any) => {
      const py = Math.round(scales.y.getPixelForValue(t.value)) + 0.5;
      ctx.moveTo(a.left, py);
      ctx.lineTo(a.left + tl, py);
      ctx.moveTo(a.right, py);
      ctx.lineTo(a.right - tl, py);
    });
    ctx.stroke();
    ctx.restore();
  },
};

function PanelChart({ p }: { p: Panel }) {
  const ref = useRef<HTMLCanvasElement>(null);
  const yW = plotLeft[p.col] - colStart[p.col];
  const xH = p.row === 2 ? 50 : 28;
  const width = yW + plotWidth[p.col] + padRight;
  const height = padTop + plotHeight + xH;
  const left = colStart[p.col];
  const top = plotTop[p.row] - padTop;

  useEffect(() => {
    if (!ref.current) return;
    const lineBase = { pointRadius: 0, borderWidth: 1, tension: 0, borderJoinStyle: 'round' as const, fill: false };
    const chart = new Chart(ref.current, {
      type: 'line',
      data: {
        datasets: [
          { ...lineBase, data: p.blue, borderColor: BLUE },
          { ...lineBase, data: p.red, borderColor: RED },
        ],
      },
      options: {
        animation: false,
        responsive: false,
        devicePixelRatio: 1,
        events: [],
        layout: { padding: { left: 0, right: padRight, top: padTop, bottom: 0 }, autoPadding: false },
        plugins: { legend: { display: false }, tooltip: { enabled: false }, title: { display: false } },
        scales: {
          x: {
            type: 'linear',
            min: 0,
            max: 300,
            bounds: 'data',
            afterBuildTicks: (s: any) => { s.ticks = timeTicks.map((v) => ({ value: v })); },
            afterFit: (s: any) => { s.height = xH; },
            grid: { display: false, drawTicks: false },
            border: { display: false },
            ticks: {
              autoSkip: false, maxRotation: 0, minRotation: 0, padding: 7, color: TEXT,
              font: { family: FONT, size: tickFontSize },
              callback: (v: any) => String(v),
            },
            title: {
              display: p.row === 2, text: 'Time (s)', color: TEXT,
              font: { family: FONT, size: labelFontSize }, padding: { top: 0, bottom: 2 },
            },
          },
          y: {
            type: 'linear',
            min: p.min,
            max: p.max,
            bounds: 'data',
            afterBuildTicks: (s: any) => { s.ticks = p.ticks.map((v) => ({ value: v })); },
            afterFit: (s: any) => { s.width = yW; },
            grid: { display: false, drawTicks: false },
            border: { display: false },
            ticks: {
              autoSkip: false, padding: 5, color: TEXT,
              font: { family: FONT, size: tickFontSize },
              callback: (v: any) => String(v),
            },
            title: {
              display: true, text: p.label, color: TEXT,
              font: { family: FONT, size: labelFontSize },
              padding: { top: p.labelCenter - colStart[p.col] - (labelFontSize * 1.2) / 2, bottom: 0 },
            },
          },
        },
      },
      plugins: [framePlugin],
    } as any);
    return () => chart.destroy();
  }, []);

  return (
    <canvas
      ref={ref}
      width={width}
      height={height}
      style={{ position: 'absolute', left, top, width, height }}
    />
  );
}

export default function App() {
  return (
    <div style={{ position: 'absolute', left: 0, top: 0, width: 680, height: 598, background: '#ffffff', overflow: 'hidden' }}>
      <div
        style={{
          position: 'absolute', left: 0, top: 2, width: 680, textAlign: 'center',
          fontFamily: FONT, fontSize: 19, lineHeight: '26px', color: TEXT, whiteSpace: 'nowrap',
        }}
      >
        <div>{titleLine1}</div>
        <div>{titleLine2}</div>
      </div>
      {panels.map((p) => (
        <PanelChart key={p.label} p={p} />
      ))}
    </div>
  );
}
